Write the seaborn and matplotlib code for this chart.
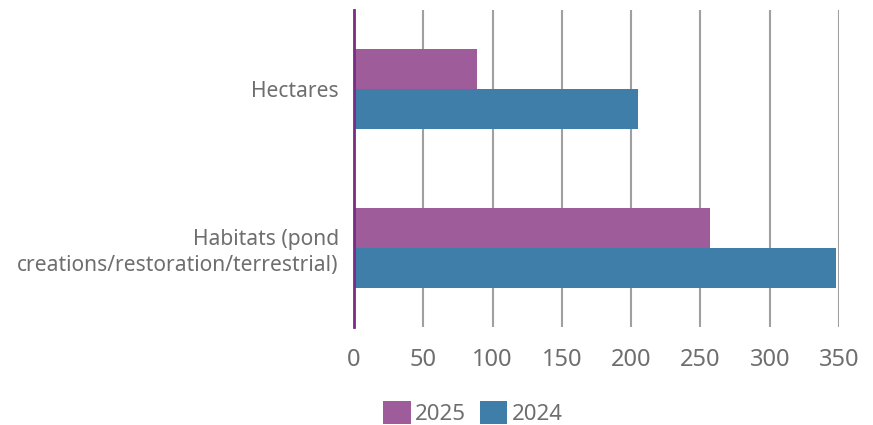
import matplotlib
matplotlib.use("Agg")
import matplotlib.pyplot as plt
import seaborn as sns
import pandas as pd
from matplotlib.patches import Patch

categories = ["Hectares", "Habitats (pond\ncreations/restoration/terrestrial)"]
series_names = ["2025", "2024"]
values_2025 = [89, 257]
values_2024 = [205, 348]
x_ticks = [0, 50, 100, 150, 200, 250, 300, 350]

colors = {"2025": "#9E5C9A", "2024": "#3E7EA8"}
text_color = "#6E6E6E"

df = pd.DataFrame({
    "category": categories * 2,
    "year": ["2025"] * len(categories) + ["2024"] * len(categories),
    "value": values_2025 + values_2024,
})

sns.set_theme(style="white")
plt.rcParams["font.family"] = ["Noto Sans", "DejaVu Sans"]

fig = plt.figure(figsize=(8.73, 4.25), dpi=100)
ax = fig.add_axes([354 / 873, (425 - 327) / 425, (839 - 354) / 873, (327 - 10) / 425])

sns.barplot(data=df, y="category", x="value", hue="year", hue_order=series_names,
            order=categories, palette=colors, orient="h", width=0.505,
            saturation=1, ax=ax, legend=False, edgecolor="none")

ax.set_xlim(0, 350)
ax.set_ylim(1.5, -0.5)
ax.set_xticks(x_ticks)
ax.set_xticklabels([str(t) for t in x_ticks], fontsize=17, color=text_color)
ax.set_yticks(range(len(categories)))
ax.set_yticklabels(categories, fontsize=15.1, color=text_color, ha="right", multialignment="right",
                   linespacing=1.3)
ax.tick_params(axis="x", length=0, pad=15)
ax.tick_params(axis="y", length=0, pad=11)
ax.set_xlabel("")
ax.set_ylabel("")

ax.set_axisbelow(True)
ax.grid(axis="x", color="#A0A0A0", linewidth=1.5)
ax.grid(axis="y", visible=False)
for s in ["top", "right", "bottom"]:
    ax.spines[s].set_visible(False)
ax.spines["left"].set_color("#7B2A85")
ax.spines["left"].set_linewidth(2)
ax.spines["left"].set_zorder(5)

handles = [Patch(facecolor=colors[n], edgecolor="none", label=n) for n in series_names]
leg = fig.legend(handles=handles, loc="center", bbox_to_anchor=(473 / 873, 1 - 413 / 425),
                 ncol=2, frameon=False, fontsize=16, handlelength=1.25, handleheight=1.25,
                 handletextpad=0.2, columnspacing=0.6)
for t in leg.get_texts():
    t.set_color(text_color)

fig.savefig("out.png", dpi=100)
